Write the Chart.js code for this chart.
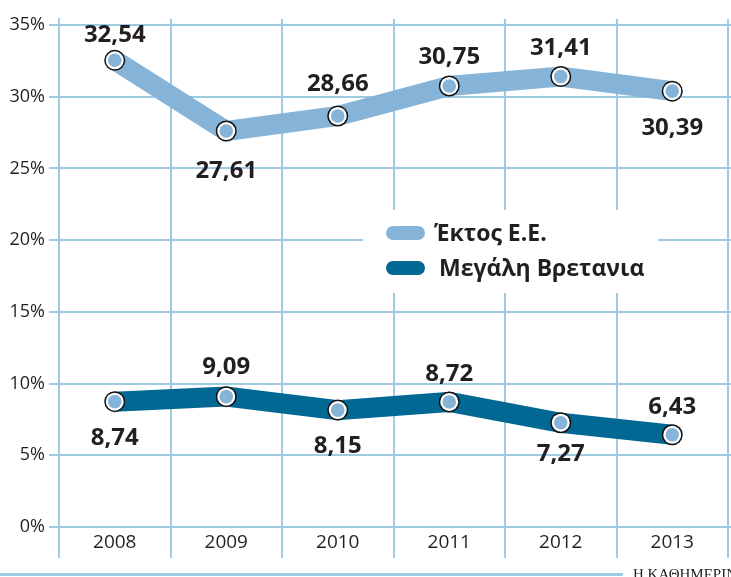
<!DOCTYPE html>
<html>
<head>
<meta charset="utf-8">
<script src="https://cdn.jsdelivr.net/npm/chart.js@4/dist/chart.umd.min.js"></script>
<style>
  html, body { margin: 0; padding: 0; background: #ffffff; overflow: hidden; }
  #wrap { position: relative; width: 731px; height: 577px; }
</style>
</head>
<body>
<div id="wrap"><canvas id="c" width="731" height="577"></canvas></div>
<script>
// ---- data ----
const years = ['2008', '2009', '2010', '2011', '2012', '2013'];
const outsideEU = [32.54, 27.61, 28.66, 30.75, 31.41, 30.39];
const greatBritain = [8.74, 9.09, 8.15, 8.72, 7.27, 6.43];
const seriesNames = ['Έκτος Ε.Ε.', 'Μεγάλη Βρετανια'];
const yTicks = [0, 5, 10, 15, 20, 25, 30, 35];
const sourceText = 'Η ΚΑΘΗΜΕΡΙΝΗ';

// ---- styles ----
const GRID = '#9ccbe2';
const LIGHT = '#86b4d8';
const DARK = '#006893';
const INK = '#231f20';
const FONT = '"Open Sans", "DejaVu Sans", sans-serif';
// label offsets (centre of text relative to point centre)
const labelDy = [
  [-27, 38, -33, -30, -30, 35],
  [35, -31, 34, -29, 30, -29]
];

const fmt = v => v.toFixed(2).replace('.', ',');

const decor = {
  id: 'decor',
  beforeDatasetsDraw(chart) {
    const ctx = chart.ctx;
    const ya = chart.scales.y;
    ctx.save();
    // extend horizontal grid lines to right edge
    ctx.strokeStyle = GRID; ctx.lineWidth = 2;
    yTicks.forEach(t => {
      const y = Math.round(ya.getPixelForValue(t));
      ctx.beginPath(); ctx.moveTo(chart.chartArea.right, y); ctx.lineTo(chart.width, y); ctx.stroke();
    });
    // white legend box
    ctx.fillStyle = '#ffffff';
    ctx.fillRect(363, 210, 295, 83);
    // legend
    const items = [[LIGHT, seriesNames[0], 233, 434], [DARK, seriesNames[1], 268, 439]];
    ctx.font = 'bold 23px ' + FONT;
    ctx.textBaseline = 'alphabetic';
    ctx.textAlign = 'left';
    items.forEach(([col, txt, cy, tx]) => {
      ctx.fillStyle = col;
      ctx.beginPath();
      if (ctx.roundRect) ctx.roundRect(386, cy - 7, 39, 14, 7); else ctx.rect(386, cy - 7, 39, 14);
      ctx.fill();
      ctx.fillStyle = INK;
      ctx.fillText(txt, tx, cy + 8.2);
    });
    // footer rule and source
    ctx.fillStyle = GRID;
    ctx.fillRect(0, 573, 623, 3);
    ctx.fillStyle = '#222222';
    ctx.font = '15px "Liberation Serif", "DejaVu Serif", serif';
    ctx.fillText(sourceText, 633, 578.5);
    ctx.restore();
  },
  afterDatasetsDraw(chart) {
    const ctx = chart.ctx;
    ctx.save();
    chart.data.datasets.forEach((ds, di) => {
      const meta = chart.getDatasetMeta(di);
      meta.data.forEach((pt, i) => {
        const x = pt.x, y = pt.y;
        ctx.beginPath(); ctx.arc(x, y, 10.5, 0, Math.PI * 2); ctx.fillStyle = '#111111'; ctx.fill();
        ctx.beginPath(); ctx.arc(x, y, 9, 0, Math.PI * 2); ctx.fillStyle = '#ffffff'; ctx.fill();
        ctx.beginPath(); ctx.arc(x, y, 6.8, 0, Math.PI * 2); ctx.fillStyle = LIGHT; ctx.fill();
        ctx.fillStyle = INK;
        ctx.font = 'bold 24px ' + FONT;
        ctx.textAlign = 'center';
        ctx.textBaseline = 'alphabetic';
        ctx.fillText(fmt(ds.data[i]), x, y + labelDy[di][i] + 8.5);
      });
    });
    ctx.restore();
  }
};

new Chart(document.getElementById('c'), {
  type: 'line',
  data: {
    labels: years,
    datasets: [
      { label: seriesNames[0], data: outsideEU, borderColor: LIGHT, borderWidth: 20,
        pointRadius: 0, tension: 0, borderCapStyle: 'butt', borderJoinStyle: 'miter', fill: false },
      { label: seriesNames[1], data: greatBritain, borderColor: DARK, borderWidth: 20,
        pointRadius: 0, tension: 0, borderCapStyle: 'butt', borderJoinStyle: 'miter', fill: false }
    ]
  },
  options: {
    responsive: false,
    animation: false,
    devicePixelRatio: 1,
    layout: { padding: { top: 19, right: 3, left: 0, bottom: 0 } },
    plugins: { legend: { display: false }, tooltip: { enabled: false } },
    scales: {
      x: {
        offset: true,
        grid: { offset: true, color: GRID, lineWidth: 2, tickLength: 31 },
        border: { color: GRID, width: 2 },
        ticks: { padding: -27, color: INK, font: { family: FONT, size: 19 } },
        afterFit(s) { s.height = 50; }
      },
      y: {
        min: 0, max: 35.42,
        afterBuildTicks(s) { s.ticks = yTicks.map(v => ({ value: v })); },
        ticks: { stepSize: 5, padding: 4, color: INK, font: { family: FONT, size: 18 },
                 callback: v => v + '%' },
        grid: { color: GRID, lineWidth: 2, tickLength: 10 },
        border: { color: GRID, width: 2 },
        afterFit(s) { s.width = 59; }
      }
    }
  },
  plugins: [decor]
});
</script>
</body>
</html>
